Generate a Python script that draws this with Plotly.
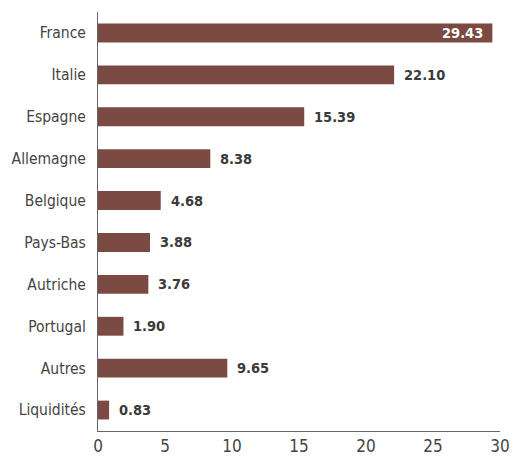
import plotly.graph_objects as go

categories = ["France", "Italie", "Espagne", "Allemagne", "Belgique", "Pays-Bas",
              "Autriche", "Portugal", "Autres", "Liquidités"]
values = [29.43, 22.10, 15.39, 8.38, 4.68, 3.88, 3.76, 1.90, 9.65, 0.83]
x_ticks = [0, 5, 10, 15, 20, 25, 30]

BAR = "#7b4a42"
TXT = "#3a3a3a"
FONT = "DejaVu Sans Condensed, sans-serif"

fig = go.Figure(go.Bar(
    y=categories, x=values, orientation="h",
    marker=dict(color=BAR, line=dict(width=0)),
    width=0.45, hoverinfo="skip",
))

annotations = []
for i, (c, v) in enumerate(zip(categories, values)):
    inside = i == 0
    annotations.append(dict(
        x=v, y=c, xref="x", yref="y", text="<b>%.2f</b>" % v, showarrow=False,
        xanchor="right" if inside else "left", xshift=-7 if inside else 8,
        font=dict(family=FONT, size=14.5, color="white" if inside else TXT),
    ))

# the page body adds an 8px margin on every side; size and margins compensate
fig.update_layout(
    width=503, height=450,
    margin=dict(l=90, r=11, t=4, b=27, autoexpand=False),
    plot_bgcolor="white", paper_bgcolor="white",
    showlegend=False, annotations=annotations,
    font=dict(family=FONT, size=16, color=TXT),
)
fig.update_xaxes(range=[0, 30], tickvals=x_ticks, showgrid=False, zeroline=False,
                 showline=True, linecolor="#666", linewidth=1, ticks="",
                 automargin=False, ticklabelstandoff=0,
                 tickfont=dict(family=FONT, size=17, color="#444"))
fig.update_yaxes(categoryorder="array", categoryarray=categories,
                 range=[9.5, -0.5], showgrid=False, zeroline=False,
                 showline=True, linecolor="#666", linewidth=1, ticks="",
                 automargin=False, ticklabelstandoff=8,
                 tickfont=dict(family=FONT, size=15.5, color="#444"))

fig.write_html("out.html")
